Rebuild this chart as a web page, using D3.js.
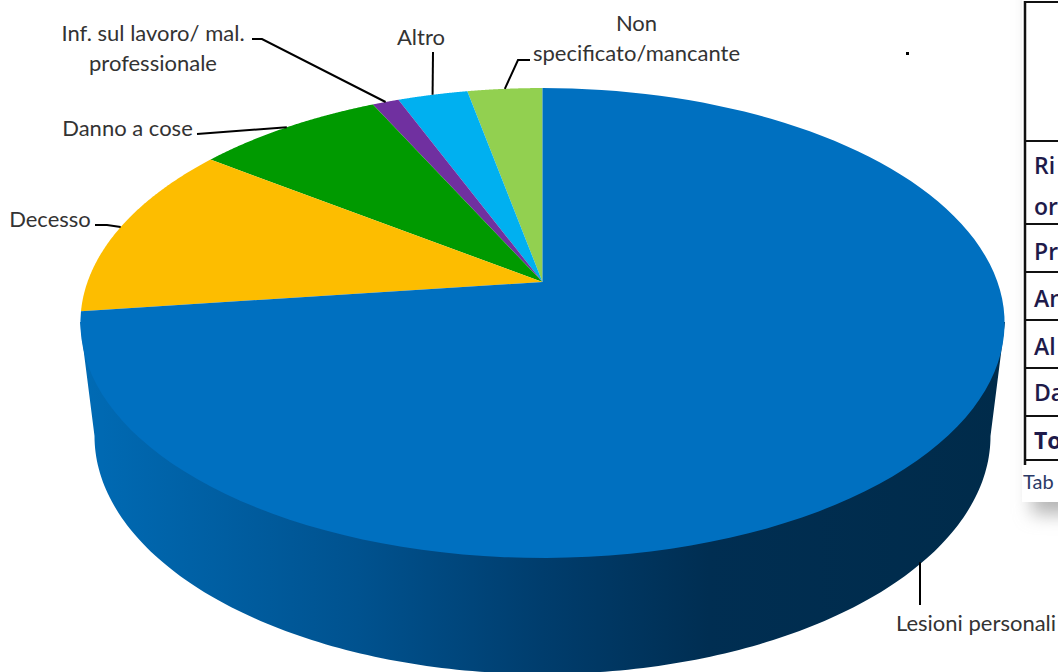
<!DOCTYPE html>
<html><head><meta charset="utf-8">
<script src="https://cdn.jsdelivr.net/npm/d3@7"></script>
<style>html,body{margin:0;padding:0;background:#fff;overflow:hidden}svg{display:block}</style>
</head><body><svg id="c" width="1058" height="672"></svg>
<script>
// Data (percent share of each slice, clockwise from 12 o'clock going left)
const categories = ["Non specificato/mancante","Altro","Inf. sul lavoro/ mal. professionale","Danno a cose","Decesso","Lesioni personali"];
const shares = [3.1, 2.9, 1.1, 7.8, 12.1, 73.0];
const colors = ["#92D050","#00B0F0","#7030A0","#009A00","#FDBD00","#0070C0"];
const labelLines = [["Non","specificato/mancante"],["Altro"],["Inf. sul lavoro/ mal.","professionale"],["Danno a cose"],["Decesso"],["Lesioni personali"]];
const labelX = [636.5,421,153,127.5,50,976];
const labelY = [22,36,32,127,218,622];
const elbows = [[[530,60],[518,60]],[[433,52]],[[252,39],[262,39]],[[197,134]],[[95,225],[107,225]],[[920,605]]];
const tableRows = [["Ri",165],["or",206],["Pr",251],["An",298],["Al",346],["Da",392],["To",440]];
const tableLines = [141,224,272,320,368,416,460];

const svg = d3.select("#c");
const defs = svg.append("defs");

// Perspective projection of the pie disc
const apex = {x:542.5, y:282}, A = 455, B = 227.8, K = 0.1745, depth = 110;
const project = (a, r=1) => {
  const X = r*Math.sin(a), Y = r*Math.cos(a), w = 1 + K*Y;
  return [apex.x + A*X/w, apex.y - B*Y/w];
};

const pie = d3.pie().sort(null).value(d=>d).startAngle(0).endAngle(-2*Math.PI);
const arcs = pie(shares);
const line = d3.line();
const sample = (a0,a1) => d3.range(0,121).map(i=>project(a0+(a1-a0)*i/120));

// Side wall
const grad = defs.append("linearGradient").attr("id","side").attr("gradientUnits","userSpaceOnUse")
  .attr("x1",80).attr("x2",1005).attr("y1",0).attr("y2",0);
[[0,"#006BB5"],[0.3,"#00528F"],[0.5,"#003D6D"],[0.68,"#002E52"],[1,"#002B4A"]]
  .forEach(([o,c])=>grad.append("stop").attr("offset",o).attr("stop-color",c));

const bot = {cx:542.5, cy:436, rx:448, ry:238};
const bottomPts = d3.range(0,181).map(i=>{
  const t = Math.PI*i/180;
  return [bot.cx - bot.rx*Math.cos(t), bot.cy + bot.ry*Math.sin(t)];
});
const wall = [[80,322],...bottomPts,[1005,322]];
svg.append("path").attr("d",line(wall)+"Z").attr("fill","url(#side)");

// Slices
svg.append("g").selectAll("path").data(arcs).join("path")
  .attr("d",d=>"M"+apex.x+","+apex.y+"L"+line(sample(d.startAngle,d.endAngle)).slice(1)+"Z")
  .attr("fill",(d,i)=>colors[i]);

// Leader lines
const anchors = arcs.map((d,i)=>{
  const p = project((d.startAngle+d.endAngle)/2);
  return i===5 ? [elbows[5][0][0], p[1]+depth] : p;
});
svg.append("g").selectAll("path").data(anchors).join("path")
  .attr("d",(p,i)=>line([p,...elbows[i].slice().reverse()]))
  .attr("fill","none").attr("stroke","#000").attr("stroke-width",2);

// Labels
const labels = svg.append("g").attr("font-family","Lato, 'Open Sans', sans-serif").attr("font-size",22)
  .attr("fill","#333").attr("text-anchor","middle");
labelLines.forEach((ls,i)=>ls.forEach((t,j)=>{
  labels.append("text").attr("x",labelX[i]).attr("y",labelY[i]+j*30).attr("dominant-baseline","central").text(t);
}));

// Stray dot
svg.append("rect").attr("x",906).attr("y",52).attr("width",3).attr("height",3).attr("fill","#000");

// Table fragment at right
const blur = defs.append("filter").attr("id","sh").attr("x","-30%").attr("y","-30%").attr("width","160%").attr("height","160%");
blur.append("feGaussianBlur").attr("stdDeviation",9);
svg.append("rect").attr("x",1032).attr("y",-20).attr("width",80).attr("height",534).attr("fill","#b4b4b4").attr("filter","url(#sh)");
svg.append("rect").attr("x",1022).attr("y",0).attr("width",40).attr("height",502).attr("fill","#fff");
const tb = svg.append("g").attr("stroke","#111");
tb.append("line").attr("x1",1025).attr("x2",1025).attr("y1",1).attr("y2",465).attr("stroke-width",2.5);
tableLines.concat([2]).forEach(y=>tb.append("line").attr("x1",1024).attr("x2",1058).attr("y1",y).attr("y2",y).attr("stroke-width",2));
const tt = svg.append("g").attr("font-family","'Open Sans', Lato, sans-serif").attr("font-size",23).attr("font-weight",600).attr("fill","#1e1a4a");
tableRows.forEach(([t,y])=>tt.append("text").attr("x",1034).attr("y",y).attr("dominant-baseline","central").attr("font-weight",t==="To"?700:600).text(t));
svg.append("text").attr("x",1023).attr("y",481).attr("dominant-baseline","central").attr("font-family","Lato, sans-serif").attr("font-size",20).attr("fill","#2b3a66").text("Tab");
</script></body></html>
